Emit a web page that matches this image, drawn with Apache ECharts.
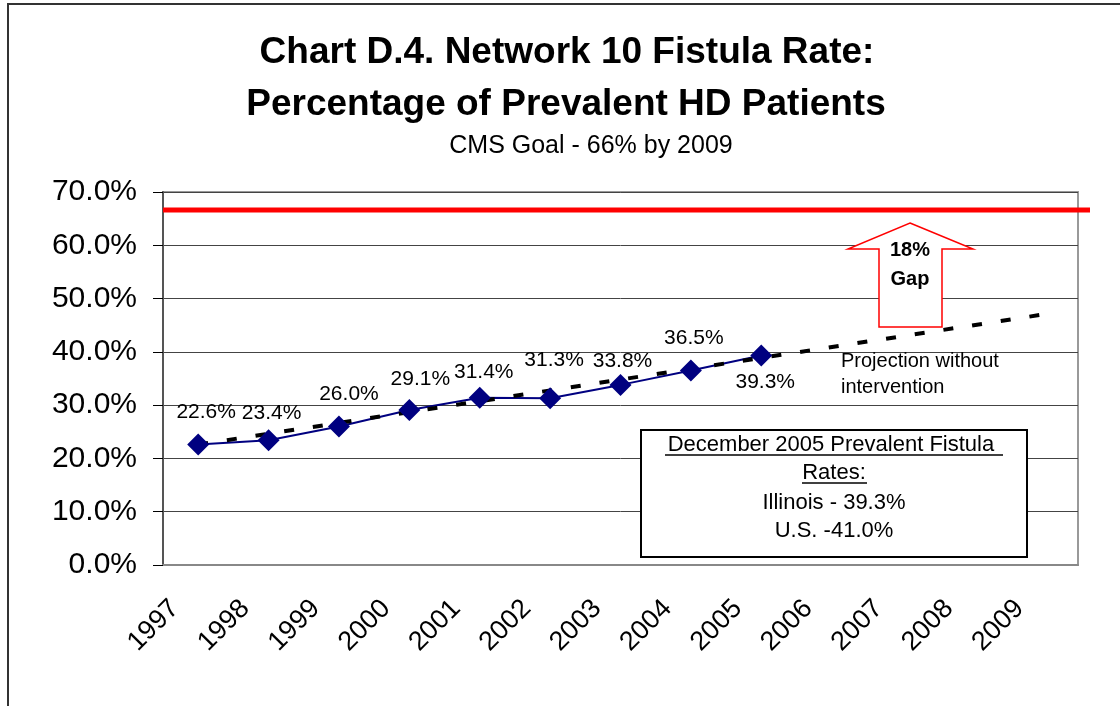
<!DOCTYPE html>
<html>
<head>
<meta charset="utf-8">
<title>Chart D.4 Network 10 Fistula Rate</title>
<script src="https://cdn.jsdelivr.net/npm/echarts@6/dist/echarts.min.js"></script>
<style>
  html, body { margin: 0; padding: 0; background: #fff; }
  #chart { width: 1120px; height: 706px; }
</style>
</head>
<body>
<div id="chart"></div>
<script>
// data
const years = ["1997", "1998", "1999", "2000", "2001", "2002", "2003", "2004", "2005", "2006", "2007", "2008", "2009"];
const rates = [22.6, 23.4, 26.0, 29.1, 31.4, 31.3, 33.8, 36.5, 39.3];
const projection = [22.6, null, null, null, null, null, null, null, null, null, null, null, 47.0];
const goalRate = 66.6;
const yTicks = [0, 10, 20, 30, 40, 50, 60, 70];

// label nudges so the % labels sit like in the original
const labelOffsets = [[8, -6], [3, -1], [10, -6], [11, -4], [4, 1], [4, -12], [2, 3], [3, -6], [4, 0]];
const labelBelow = [false, false, false, false, false, false, false, false, true];

const FONT = "'Liberation Sans', Arial, sans-serif";

const chart = echarts.init(document.getElementById("chart"), null, { renderer: "canvas" });

const pointLabel = {
  show: true,
  fontSize: 21,
  color: "#000",
  fontFamily: FONT,
  formatter: (p) => p.value.toFixed(1) + "%",
};

const rateData = rates.map((v, i) => ({
  value: v,
  label: Object.assign({}, pointLabel, {
    offset: labelOffsets[i],
    position: labelBelow[i] ? "bottom" : "top",
  }),
}));

const option = {
  animation: false,
  backgroundColor: "#fff",
  textStyle: { fontFamily: FONT },
  grid: [
    {
      left: 163,
      right: 42,
      top: 192,
      bottom: 141,
      show: true,
      backgroundColor: "#fff",
      borderColor: "#999",
      borderWidth: 2,
    },
    {
      // goal line runs a little past the plot's right edge
      left: 163,
      right: 30,
      top: 192,
      bottom: 141,
      show: false,
    },
  ],
  xAxis: [
    {
      type: "category",
      data: years,
      boundaryGap: true,
      axisLine: { lineStyle: { color: "#888", width: 2 } },
      axisTick: { length: 10, lineStyle: { color: "#555" } },
      axisLabel: {
        interval: 0,
        rotate: 45,
        fontSize: 27,
        color: "#000",
        fontFamily: FONT,
        margin: 16,
        padding: [0, 33, 0, 0],
      },
      splitLine: { show: false },
    },
    { gridIndex: 1, type: "value", min: 0, max: 1, show: false },
  ],
  yAxis: [
    {
      type: "value",
      min: yTicks[0],
      max: yTicks[yTicks.length - 1],
      interval: 10,
      axisLine: { show: true, lineStyle: { color: "#555", width: 2 } },
      axisTick: { show: true, length: 10, lineStyle: { color: "#000" } },
      axisLabel: {
        fontSize: 30,
        color: "#000",
        margin: 26,
        fontFamily: FONT,
        formatter: (v) => v.toFixed(1) + "%",
      },
      splitLine: { lineStyle: { color: "#444", width: 1 } },
    },
    { gridIndex: 1, type: "value", min: yTicks[0], max: yTicks[yTicks.length - 1], show: false },
  ],
  series: [
    {
      name: "CMS Goal",
      type: "line",
      xAxisIndex: 1,
      yAxisIndex: 1,
      data: [[0, goalRate], [1, goalRate]],
      symbol: "none",
      silent: true,
      lineStyle: { color: "#ff0000", width: 5 },
    },
    {
      name: "Fistula Rate",
      type: "line",
      data: rateData,
      symbol: "diamond",
      symbolSize: 22,
      itemStyle: { color: "#000080" },
      lineStyle: { color: "#000080", width: 2 },
      label: pointLabel,
    },
    {
      name: "Projection",
      type: "line",
      data: projection,
      connectNulls: true,
      symbol: "none",
      silent: true,
      lineStyle: { color: "#000", width: 4, type: [10, 19] },
    },
  ],
  graphic: [
    // outer chart border
    {
      type: "rect",
      shape: { x: 8, y: 4, width: 1300, height: 900 },
      style: { fill: null, stroke: "#333", lineWidth: 2 },
      z: 100,
    },
    {
      type: "text",
      x: 567, y: 53,
      style: { text: "Chart D.4. Network 10 Fistula Rate:", font: "bold 37px " + FONT, fill: "#000", align: "center", verticalAlign: "middle" },
      z: 100,
    },
    {
      type: "text",
      x: 566, y: 105,
      style: { text: "Percentage of Prevalent HD Patients", font: "bold 37px " + FONT, fill: "#000", align: "center", verticalAlign: "middle" },
      z: 100,
    },
    {
      type: "text",
      x: 591, y: 146,
      style: { text: "CMS Goal - 66% by 2009", font: "25px " + FONT, fill: "#000", align: "center", verticalAlign: "middle" },
      z: 100,
    },
    // the "18% Gap" block arrow
    {
      type: "polygon",
      shape: { points: [[910, 223], [973, 249], [942, 249], [942, 327], [879, 327], [879, 249], [848, 249]] },
      style: { fill: "#fff", stroke: "#ff0000", lineWidth: 1.5 },
      z: 100,
    },
    {
      type: "text",
      x: 910, y: 250,
      style: { text: "18%", font: "bold 20px " + FONT, fill: "#000", align: "center", verticalAlign: "middle" },
      z: 101,
    },
    {
      type: "text",
      x: 910, y: 279,
      style: { text: "Gap", font: "bold 20px " + FONT, fill: "#000", align: "center", verticalAlign: "middle" },
      z: 101,
    },
    {
      type: "text",
      x: 841, y: 361,
      style: { text: "Projection without", font: "20px " + FONT, fill: "#000", align: "left", verticalAlign: "middle" },
      z: 100,
    },
    {
      type: "text",
      x: 841, y: 387,
      style: { text: "intervention", font: "20px " + FONT, fill: "#000", align: "left", verticalAlign: "middle" },
      z: 100,
    },
    // December 2005 note box
    {
      type: "rect",
      shape: { x: 641, y: 430, width: 386, height: 127 },
      style: { fill: "#fff", stroke: "#000", lineWidth: 2 },
      z: 100,
    },
    {
      type: "text",
      x: 834, y: 445,
      style: { text: "December 2005 Prevalent Fistula ", font: "22px " + FONT, fill: "#000", align: "center", verticalAlign: "middle" },
      z: 101,
    },
    {
      type: "line",
      shape: { x1: 665, y1: 455, x2: 1003, y2: 455 },
      style: { stroke: "#000", lineWidth: 1.5 },
      z: 101,
    },
    {
      type: "text",
      x: 834, y: 473,
      style: { text: "Rates:", font: "22px " + FONT, fill: "#000", align: "center", verticalAlign: "middle" },
      z: 101,
    },
    {
      type: "line",
      shape: { x1: 802, y1: 483, x2: 867, y2: 483 },
      style: { stroke: "#000", lineWidth: 1.5 },
      z: 101,
    },
    {
      type: "text",
      x: 834, y: 503,
      style: { text: "Illinois - 39.3%", font: "22px " + FONT, fill: "#000", align: "center", verticalAlign: "middle" },
      z: 101,
    },
    {
      type: "text",
      x: 834, y: 531,
      style: { text: "U.S. -41.0%", font: "22px " + FONT, fill: "#000", align: "center", verticalAlign: "middle" },
      z: 101,
    },
  ],
};

chart.setOption(option);
</script>
</body>
</html>
